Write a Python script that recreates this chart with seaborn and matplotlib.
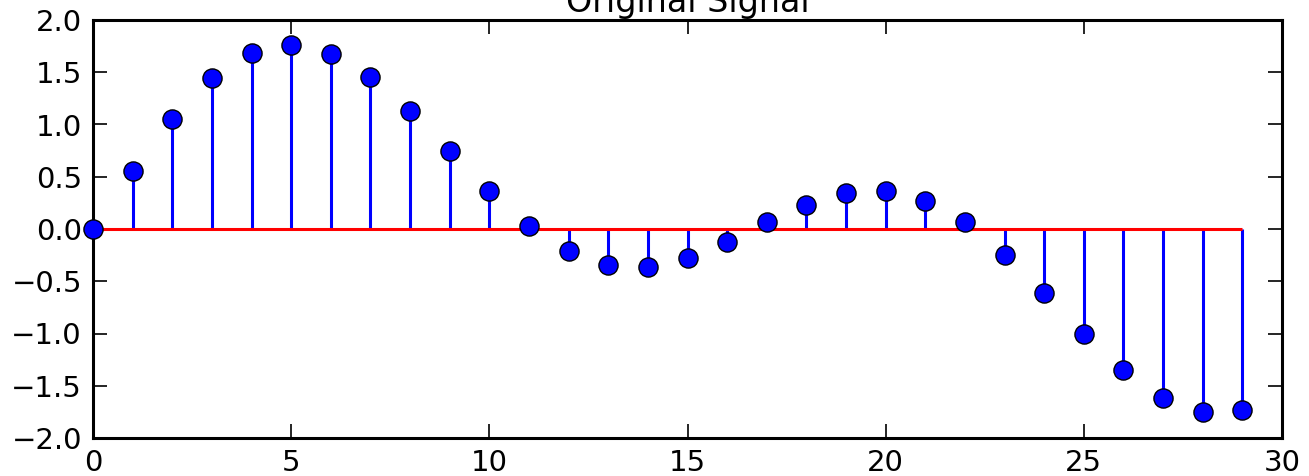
import numpy as np
import pandas as pd
import matplotlib
matplotlib.use("Agg")
import matplotlib.pyplot as plt
import seaborn as sns

n = list(range(30))
values = [0.0, 0.555, 1.05, 1.445, 1.685, 1.76, 1.675, 1.455, 1.13, 0.746,
          0.364, 0.03, -0.21, -0.345, -0.364, -0.28, -0.124, 0.067, 0.23, 0.345,
          0.364, 0.268, 0.067, -0.25, -0.61, -1.0, -1.35, -1.62, -1.75, -1.73]
title = "Original Signal"
xticks = [0, 5, 10, 15, 20, 25, 30]
yticks = [-2.0, -1.5, -1.0, -0.5, 0.0, 0.5, 1.0, 1.5, 2.0]

df = pd.DataFrame({"n": n, "value": values})

sns.set_style("white")
plt.rcParams["font.family"] = ["DejaVu Sans"]
plt.rcParams["text.color"] = "black"
plt.rcParams["xtick.color"] = "black"
plt.rcParams["ytick.color"] = "black"
plt.rcParams["axes.labelcolor"] = "black"

fig = plt.figure(figsize=(13.09, 4.76), dpi=100)
ax = fig.add_axes([93/1309, 1-438/476, (1282-93)/1309, (438-20)/476])

ax.vlines(df["n"], 0, df["value"], color="#0000ff", linewidth=2.2, zorder=2)
ax.hlines(0, df["n"].min(), df["n"].max(), color="#ff0000", linewidth=2.2, zorder=3)
sns.scatterplot(data=df, x="n", y="value", ax=ax, s=190, color="#0000ff",
                edgecolor="black", linewidth=1.0, zorder=4, clip_on=False, legend=False)

ax.set_xlim(0, 30)
ax.set_ylim(-2.0, 2.0)
ax.set_xticks(xticks)
ax.set_yticks(yticks)
ax.set_xticklabels([str(t) for t in xticks])
ax.set_yticklabels([f"{t:.1f}".replace("-", "\u2212") for t in yticks])
ax.set_xlabel("")
ax.set_ylabel("")
ax.tick_params(direction="in", length=10, width=1.2, labelsize=21, color="black",
               labelcolor="black",
               top=True, right=True, bottom=True, left=True, pad=8)
for s in ax.spines.values():
    s.set_color("black")
    s.set_linewidth(2.2)
ax.set_title(title, fontsize=24, pad=6, color="black")

fig.savefig("out.png", dpi=100)
